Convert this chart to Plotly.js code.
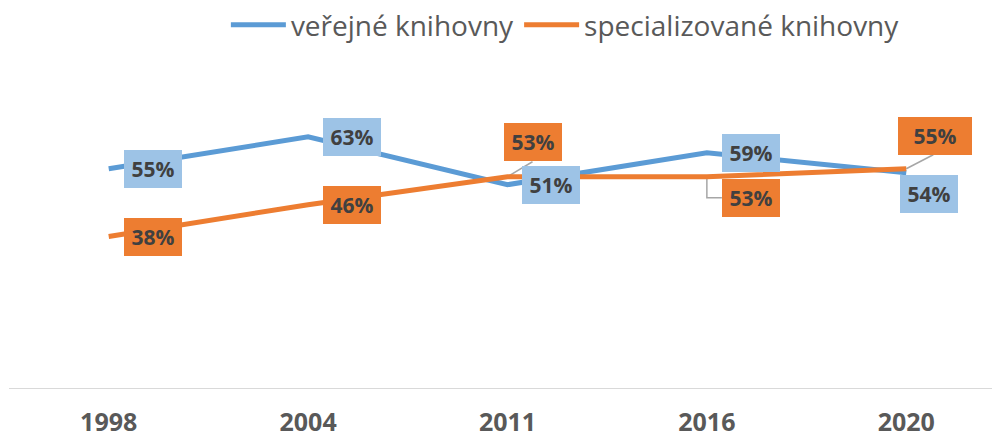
<!DOCTYPE html>
<html><head><meta charset="utf-8">
<script src="https://cdn.plot.ly/plotly-3.0.1.min.js"></script>
<style>html,body{margin:0;padding:0;background:#fff}#chart{width:992px;height:437px}</style>
</head><body><div id="chart"></div>
<script>
// ---- data ----
const years = ['1998', '2004', '2011', '2016', '2020'];
const verejne = [0.55, 0.63, 0.51, 0.59, 0.54];
const specializovane = [0.38, 0.46, 0.53, 0.53, 0.55];
const seriesNames = ['veřejné knihovny', 'specializované knihovny'];

// ---- styling / placement ----
const BLUE = '#5B9BD5', BLUE_LBL = '#9DC3E6', ORANGE = '#ED7D31';
const LBL_FONT = {family: 'Open Sans, sans-serif', size: 21, color: '#404040', weight: 700};
const blueShift = [[44, 0], [44, 0], [44, 0], [44, 0], [23, -21]];
const orangeShift = [[44, 0], [44, 0], [26, 35], [44, -21], [29, 33]];
const orangeWidth = [58, 58, 58, 58, 74];

const fmt = v => Math.round(v * 100) + '%';

const traces = [
  {x: years, y: verejne, name: seriesNames[0], type: 'scatter', mode: 'lines',
   line: {color: BLUE, width: 5}, hoverinfo: 'skip'},
  {x: years, y: specializovane, name: seriesNames[1], type: 'scatter', mode: 'lines',
   line: {color: ORANGE, width: 5}, hoverinfo: 'skip'}
];

const annotations = [];
years.forEach((yr, i) => {
  // category axis: annotation x is the category index
  annotations.push({x: i, y: verejne[i], xref: 'x', yref: 'y', text: fmt(verejne[i]),
    showarrow: false, xanchor: 'center', yanchor: 'middle',
    xshift: blueShift[i][0], yshift: blueShift[i][1],
    bgcolor: BLUE_LBL, borderpad: 0, borderwidth: 0, width: 58, height: 38, font: Object.assign({}, LBL_FONT)});
  annotations.push({x: i, y: specializovane[i], xref: 'x', yref: 'y', text: fmt(specializovane[i]),
    showarrow: false, xanchor: 'center', yanchor: 'middle',
    xshift: orangeShift[i][0], yshift: orangeShift[i][1],
    bgcolor: ORANGE, borderpad: 0, borderwidth: 0, width: orangeWidth[i], height: 38, font: Object.assign({}, LBL_FONT)});
});

const leader = {color: '#A6A6A6', width: 1.5};
const shapes = [
  {type: 'line', xref: 'x', yref: 'y', xsizemode: 'pixel', ysizemode: 'pixel',
   xanchor: 2, yanchor: specializovane[2], x0: 0, y0: 0, x1: 25, y1: 15, line: leader, layer: 'below'},
  {type: 'path', xref: 'x', yref: 'y', xsizemode: 'pixel', ysizemode: 'pixel',
   xanchor: 3, yanchor: specializovane[3], path: 'M0,0 L0,-21 L15,-21', line: leader, layer: 'below'},
  {type: 'line', xref: 'x', yref: 'y', xsizemode: 'pixel', ysizemode: 'pixel',
   xanchor: 4, yanchor: specializovane[4], x0: 0, y0: 0, x1: 27, y1: 14, line: leader, layer: 'below'}
];

const layout = {
  width: 992, height: 437,
  margin: {l: 9, r: 0, t: 109, b: 49},
  paper_bgcolor: '#fff', plot_bgcolor: '#fff',
  font: {family: 'Open Sans, sans-serif', color: '#595959'},
  showlegend: true,
  legend: {orientation: 'h', x: 0.566, xanchor: 'center', y: 1.0, yanchor: 'top', yref: 'container',
    font: {family: 'Open Sans, sans-serif', size: 28, color: '#595959'}, itemwidth: 55},
  xaxis: {type: 'category', range: [-0.5, 4.43], showgrid: false, zeroline: false,
    showline: true, linecolor: '#D9D9D9', linewidth: 1, ticks: '', ticklen: 0,
    ticklabelstandoff: 12,
    tickfont: {family: 'Open Sans, sans-serif', size: 25, color: '#595959', weight: 700},
    fixedrange: true},
  yaxis: {range: [0, 0.7], visible: false, showgrid: false, zeroline: false, fixedrange: true},
  annotations: annotations,
  shapes: shapes
};

Plotly.newPlot('chart', traces, layout, {displayModeBar: false, staticPlot: true});
</script>
</body></html>
